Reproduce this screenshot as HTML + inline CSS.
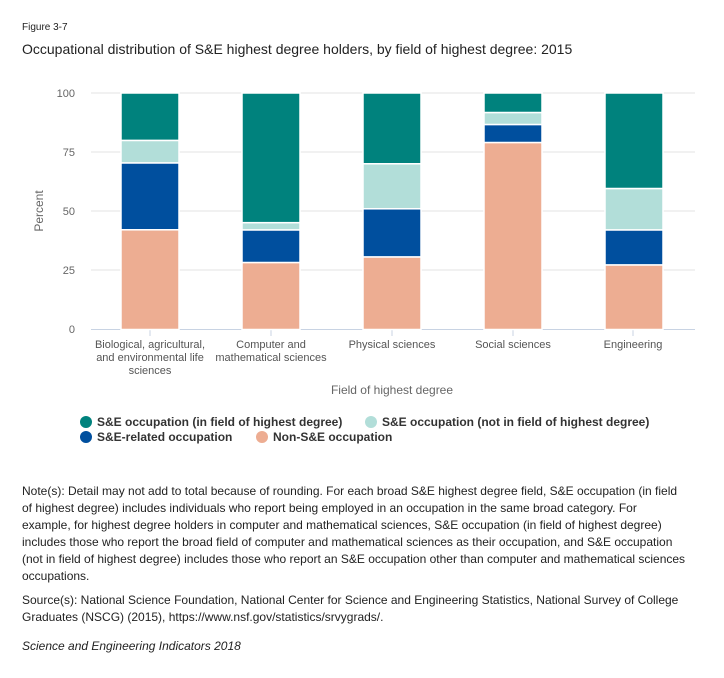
<!DOCTYPE html>
<html><head><meta charset="utf-8"><style>
body{margin:0;background:#fff;font-family:"Liberation Sans",sans-serif;color:#222}
.t{position:absolute;white-space:nowrap}
</style></head><body>
<div style="position:relative;width:724px;height:678px;overflow:hidden">
<div class="t" style="left:22px;top:22px;font-size:10px">Figure 3-7</div>
<div class="t" style="left:22px;top:41px;font-size:14px">Occupational distribution of S&amp;E highest degree holders, by field of highest degree: 2015</div>
<svg width="724" height="460" style="position:absolute;left:0;top:0" font-family="Liberation Sans, sans-serif">
<g stroke="#e3e3e3" stroke-width="1">
<line x1="91" x2="695" y1="93" y2="93"/><line x1="91" x2="695" y1="152" y2="152"/><line x1="91" x2="695" y1="211" y2="211"/><line x1="91" x2="695" y1="270" y2="270"/>
</g>
<line x1="91" x2="695" y1="329.5" y2="329.5" stroke="#c8d3e3"/>
<g stroke="#c8d3e3"><line x1="150" x2="150" y1="330" y2="336"/><line x1="271" x2="271" y1="330" y2="336"/><line x1="392" x2="392" y1="330" y2="336"/><line x1="513" x2="513" y1="330" y2="336"/><line x1="633" x2="633" y1="330" y2="336"/></g>
<g font-size="11" fill="#666" text-anchor="end">
<text x="75" y="97">100</text><text x="75" y="156">75</text><text x="75" y="215">50</text><text x="75" y="274">25</text><text x="75" y="333">0</text>
</g>
<text transform="translate(43,211) rotate(-90)" font-size="12" fill="#666" text-anchor="middle">Percent</text>
<g stroke="#fff" stroke-width="1.5">
<rect x="121" y="93" width="58" height="47.5" fill="#00827d"/>
<rect x="121" y="140.5" width="58" height="22.5" fill="#b2ded9"/>
<rect x="121" y="163" width="58" height="66.8" fill="#004f9e"/>
<rect x="121" y="229.8" width="58" height="99.7" fill="#edad92"/>
<rect x="242" y="93" width="58" height="129.7" fill="#00827d"/>
<rect x="242" y="222.7" width="58" height="7.3" fill="#b2ded9"/>
<rect x="242" y="230" width="58" height="32.6" fill="#004f9e"/>
<rect x="242" y="262.6" width="58" height="66.9" fill="#edad92"/>
<rect x="363" y="93" width="58" height="70.8" fill="#00827d"/>
<rect x="363" y="163.8" width="58" height="45" fill="#b2ded9"/>
<rect x="363" y="208.8" width="58" height="48.2" fill="#004f9e"/>
<rect x="363" y="257" width="58" height="72.5" fill="#edad92"/>
<rect x="484" y="93" width="58" height="19.6" fill="#00827d"/>
<rect x="484" y="112.6" width="58" height="12" fill="#b2ded9"/>
<rect x="484" y="124.6" width="58" height="18" fill="#004f9e"/>
<rect x="484" y="142.6" width="58" height="186.9" fill="#edad92"/>
<rect x="605" y="93" width="58" height="95.6" fill="#00827d"/>
<rect x="605" y="188.6" width="58" height="41.4" fill="#b2ded9"/>
<rect x="605" y="230" width="58" height="35" fill="#004f9e"/>
<rect x="605" y="265" width="58" height="64.5" fill="#edad92"/>
</g>
<g font-size="11" fill="#555" text-anchor="middle">
<text x="150" y="348">Biological, agricultural,</text><text x="150" y="361">and environmental life</text><text x="150" y="374">sciences</text>
<text x="271" y="348">Computer and</text><text x="271" y="361">mathematical sciences</text>
<text x="392" y="348">Physical sciences</text>
<text x="513" y="348">Social sciences</text>
<text x="633" y="348">Engineering</text>
</g>
<text x="392" y="394" font-size="12" fill="#666" text-anchor="middle">Field of highest degree</text>
<g font-size="12" font-weight="bold" fill="#333">
<circle cx="86" cy="422" r="6" fill="#00827d"/><text x="97" y="426">S&amp;E occupation (in field of highest degree)</text>
<circle cx="371" cy="422" r="6" fill="#b2ded9"/><text x="382" y="426">S&amp;E occupation (not in field of highest degree)</text>
<circle cx="86" cy="437" r="6" fill="#004f9e"/><text x="97" y="441">S&amp;E-related occupation</text>
<circle cx="262" cy="437" r="6" fill="#edad92"/><text x="273" y="441">Non-S&amp;E occupation</text>
</g>
</svg>
<div class="t" style="left:22px;top:483px;font-size:12px;line-height:17px">Note(s): Detail may not add to total because of rounding. For each broad S&amp;E highest degree field, S&amp;E occupation (in field<br>of highest degree) includes individuals who report being employed in an occupation in the same broad category. For<br>example, for highest degree holders in computer and mathematical sciences, S&amp;E occupation (in field of highest degree)<br>includes those who report the broad field of computer and mathematical sciences as their occupation, and S&amp;E occupation<br>(not in field of highest degree) includes those who report an S&amp;E occupation other than computer and mathematical sciences<br>occupations.</div>
<div class="t" style="left:22px;top:592px;font-size:12px;line-height:17px">Source(s): National Science Foundation, National Center for Science and Engineering Statistics, National Survey of College<br>Graduates (NSCG) (2015), https://www.nsf.gov/statistics/srvygrads/.</div>
<div class="t" style="left:22px;top:639px;font-size:12px;font-style:italic">Science and Engineering Indicators 2018</div>
</div>
</body></html>
